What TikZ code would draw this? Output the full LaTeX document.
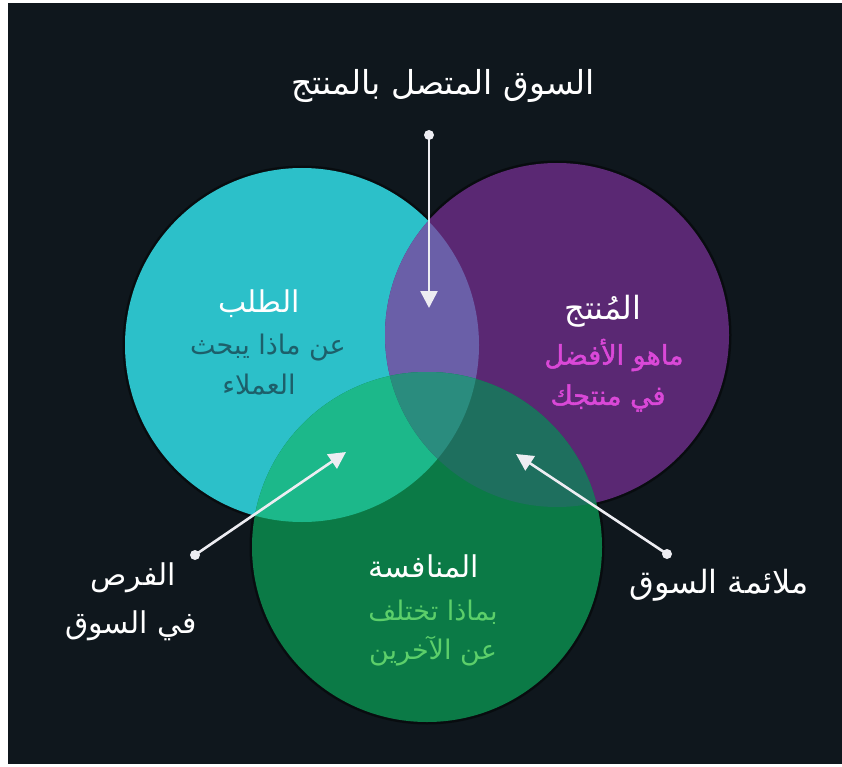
\documentclass[tikz,border=0pt]{standalone}
\usepackage{fontspec}
\newfontfamily\arabicfont[Script=Arabic]{DejaVu Sans}
\newfontfamily\arabicheavy[Script=Arabic, FakeBold=1.6]{DejaVu Sans}
\TeXXeTstate=1
\usetikzlibrary{arrows.meta}
\definecolor{bgc}{HTML}{0F171D}
\definecolor{cyanc}{HTML}{2CC0C9}
\definecolor{purplec}{HTML}{5A2873}
\definecolor{greenc}{HTML}{0B7A46}
\definecolor{cpc}{HTML}{6A5FA8}
\definecolor{cgc}{HTML}{1CB88A}
\definecolor{pgc}{HTML}{1E6F5E}
\definecolor{allc}{HTML}{2A8C7E}
\definecolor{tealtxt}{HTML}{1D5F6A}
\definecolor{magtxt}{HTML}{DA48D8}
\definecolor{grntxt}{HTML}{5CCF6A}
\definecolor{linec}{HTML}{EDEDF2}
\tikzset{
  venn/.style={circle, inner sep=0pt, minimum size=#1},
  halo/.style={fill=black, fill opacity=0.45},
  lbl/.style={text=white, font=\arabicfont\fontsize{30}{35}\selectfont, inner sep=0pt},
  sub/.style={font=\arabicfont\fontsize{27}{32}\selectfont, inner sep=0pt},
  conn/.style={draw=linec, line width=2.6pt, -{Triangle[length=17pt,width=17pt]}},
  dotc/.style={fill=linec}
}
\begin{document}
\begin{tikzpicture}[x=1pt,y=-1pt]
\useasboundingbox (0,0) rectangle (842,767);
\fill[white] (0,0) rectangle (842,767);
\fill[bgc] (8,3) rectangle (842,764);
% soft dark rim around the circles
\fill[halo] (302,345) circle (179.5pt);
\fill[halo] (557,335) circle (174.5pt);
\fill[halo] (427,547) circle (177.5pt);
% circles
\node[venn=354pt, fill=cyanc] (demand) at (302,345) {};
\node[venn=344pt, fill=purplec] (product) at (557,335) {};
\begin{scope}
  \clip (302,345) circle (177pt);
  \fill[cpc] (557,335) circle (172pt);
\end{scope}
\node[venn=350pt, fill=greenc] (comp) at (427,547) {};
\begin{scope}
  \clip (427,547) circle (175pt);
  \fill[cgc] (302,345) circle (177pt);
  \fill[pgc] (557,335) circle (172pt);
  \clip (302,345) circle (177pt);
  \fill[allc] (557,335) circle (172pt);
\end{scope}
% texts
\node[lbl, font=\arabicfont\fontsize{33}{38}\selectfont] (title) at (443,86) {\beginR السوق المتصل بالمنتج\endR};
\node[lbl] (t1) at (259,304) {\beginR الطلب\endR};
\node[sub, text=tealtxt] (t1a) at (268,348) {\beginR عن ماذا يبحث\endR};
\node[sub, text=tealtxt] (t1b) at (259,385) {\beginR العملاء\endR};
\node[lbl, font=\arabicfont\fontsize{32}{37}\selectfont] (t2) at (603,311) {\beginR المُنتج\endR};
\node[sub, text=magtxt, font=\arabicheavy\fontsize{27}{32}\selectfont] (t2a) at (614,355) {\beginR ماهو الأفضل\endR};
\node[sub, text=magtxt, font=\arabicheavy\fontsize{27}{32}\selectfont] (t2b) at (608,398) {\beginR في منتجك\endR};
\node[lbl] (t3) at (424,566) {\beginR المنافسة\endR};
\node[sub, text=grntxt] (t3a) at (433,612) {\beginR بماذا تختلف\endR};
\node[sub, text=grntxt] (t3b) at (433,651) {\beginR عن الآخرين\endR};
\node[lbl] (l1) at (133,578) {\beginR الفرص\endR};
\node[lbl] (l2) at (131,626) {\beginR في السوق\endR};
\node[lbl, font=\arabicfont\fontsize{32}{37}\selectfont] (r1) at (719,585) {\beginR ملائمة السوق\endR};
% connectors
\coordinate (s1) at (429,135);
\coordinate (e1) at (429,308);
\coordinate (s2) at (195,555);
\coordinate (e2) at (346,452);
\coordinate (s3) at (667,554);
\coordinate (e3) at (516,454);
\draw[conn] (s1) -- (e1);
\draw[conn] (s2) -- (e2);
\draw[conn] (s3) -- (e3);
\fill[dotc] (s1) circle (5pt);
\fill[dotc] (s2) circle (5pt);
\fill[dotc] (s3) circle (5pt);
\end{tikzpicture}
\end{document}
